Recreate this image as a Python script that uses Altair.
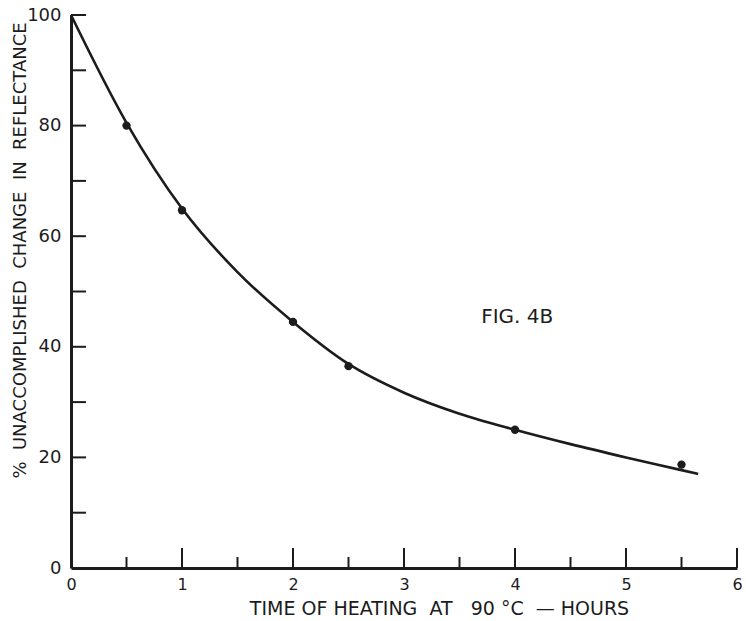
import altair as alt
import pandas as pd

# Measured points: time of heating (hours) vs % unaccomplished change
pt_hours = [0.5, 1.0, 2.0, 2.5, 4.0, 5.5]
pt_pct = [80.0, 64.7, 44.5, 36.5, 25.0, 18.7]

# Hand-drawn smooth curve through the measurements
curve_hours = [0.0, 0.5, 1.0, 1.5, 2.0, 2.5, 3.0, 3.5, 4.0, 4.5, 5.0, 5.5, 5.65]
curve_pct = [100.0, 80.5, 65.0, 53.5, 44.5, 36.9, 31.7, 27.9, 25.0, 22.4, 20.0, 17.7, 17.0]

# Inward tick positions
x_major = [1, 2, 3, 4, 5, 6]
x_minor = [0.5, 1.5, 2.5, 3.5, 4.5, 5.5]
y_ticks = [10, 20, 30, 40, 50, 60, 70, 80, 90, 100]

W, H = 666, 553
INK = "#1c1c1c"
FONT = "DejaVu Sans"
SP = "\u00a0"

x_title = f"TIME OF HEATING{SP}{SP}AT{SP}{SP}{SP}90 \u00b0C{SP}{SP}\u2014 HOURS"
y_title = f"%{SP}{SP}UNACCOMPLISHED{SP}{SP}CHANGE{SP}{SP}IN{SP}{SP}REFLECTANCE"

xs = alt.Scale(domain=[0, 6], nice=False)
ys = alt.Scale(domain=[0, 100], nice=False)

x_axis = alt.Axis(
    values=[0, 1, 2, 3, 4, 5, 6], format="d", ticks=False, grid=False,
    domainColor=INK, domainWidth=3, labelFont=FONT, labelFontSize=16,
    labelColor=INK, labelPadding=8, labelFlush=False,
    title=x_title, titleFont=FONT,
    titleFontSize=19, titleFontWeight="normal", titleColor=INK,
    titleX=368, titleY=40, titleAlign="center", titleBaseline="middle",
)
y_axis = alt.Axis(
    values=[0, 20, 40, 60, 80, 100], format="d", ticks=False, grid=False,
    domainColor=INK, domainWidth=3, labelFont=FONT, labelFontSize=18,
    labelColor=INK, labelPadding=10, labelFlush=False,
    title=y_title, titleFont=FONT,
    titleFontSize=18, titleFontWeight="normal", titleColor=INK,
    titleX=-51, titleY=235, titleAngle=-90, titleAlign="center",
    titleBaseline="middle",
)

curve_df = pd.DataFrame({"hours": curve_hours, "pct": curve_pct})
pt_df = pd.DataFrame({"hours": pt_hours, "pct": pt_pct})

curve = alt.Chart(curve_df).mark_line(
    color=INK, strokeWidth=2.6, interpolate="monotone"
).encode(
    x=alt.X("hours:Q", scale=xs, axis=x_axis),
    y=alt.Y("pct:Q", scale=ys, axis=y_axis),
)

dots = alt.Chart(pt_df).mark_circle(color=INK, opacity=1, size=70).encode(
    x=alt.X("hours:Q", scale=xs),
    y=alt.Y("pct:Q", scale=ys),
)

major = alt.Chart(pd.DataFrame({"t": x_major})).mark_rule(
    color=INK, strokeWidth=2
).encode(x=alt.X("t:Q", scale=xs), y=alt.value(H), y2=alt.value(H - 20))

minor = alt.Chart(pd.DataFrame({"t": x_minor})).mark_rule(
    color=INK, strokeWidth=2
).encode(x=alt.X("t:Q", scale=xs), y=alt.value(H), y2=alt.value(H - 11))

yt = alt.Chart(pd.DataFrame({"t": y_ticks})).mark_rule(
    color=INK, strokeWidth=2
).encode(y=alt.Y("t:Q", scale=ys), x=alt.value(0), x2=alt.value(15))

fig = alt.Chart(pd.DataFrame({"hours": [4.02], "pct": [45.3], "label": ["FIG. 4B"]})).mark_text(
    font=FONT, fontSize=20, color=INK, align="center", baseline="middle"
).encode(x=alt.X("hours:Q", scale=xs), y=alt.Y("pct:Q", scale=ys), text="label:N")

chart = alt.layer(curve, dots, major, minor, yt, fig).properties(
    width=W, height=H,
    autosize=alt.AutoSizeParams(type="none"),
    padding={"left": 71, "top": 15, "right": 9, "bottom": 53},
    background="white",
).configure_view(stroke=None)

chart.save("out.html", embed_options={"renderer": "svg", "actions": False})
